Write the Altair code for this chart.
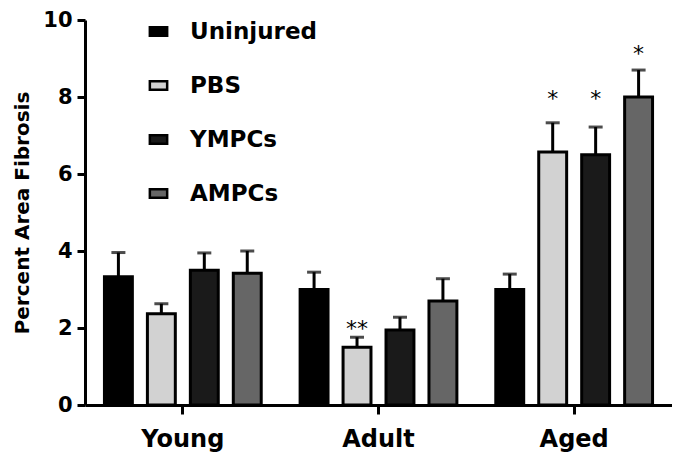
import altair as alt
import pandas as pd

groups = ["Young", "Adult", "Aged"]
series = ["Uninjured", "PBS", "YMPCs", "AMPCs"]
values = {
    "Young": [3.33, 2.37, 3.50, 3.42],
    "Adult": [3.00, 1.50, 1.95, 2.70],
    "Aged":  [3.00, 6.57, 6.50, 8.00],
}
err_top = {
    "Young": [3.96, 2.63, 3.95, 4.00],
    "Adult": [3.45, 1.76, 2.28, 3.28],
    "Aged":  [3.40, 7.33, 7.22, 8.70],
}
stars = {
    "Young": ["", "", "", ""],
    "Adult": ["", "**", "", ""],
    "Aged":  ["", "*", "*", "*"],
}
star_y = {
    "Young": [0, 0, 0, 0],
    "Adult": [0, 2.08, 0, 0],
    "Aged":  [0, 8.05, 8.05, 9.22],
}
colors = ["#000000", "#d2d2d2", "#1a1a1a", "#666666"]

rows = []
for g in groups:
    for i, s in enumerate(series):
        rows.append({"group": g, "series": s, "value": values[g][i],
                     "err": err_top[g][i], "star": stars[g][i], "star_y": star_y[g][i]})
df = pd.DataFrame(rows)

FONT = "DejaVu Sans"

x = alt.X("group:N", sort=groups, title=None,
          scale=alt.Scale(paddingInner=0.1, paddingOuter=0.05),
          axis=alt.Axis(labelAngle=0, labelFontSize=24, labelFont=FONT, labelFontWeight="bold",
                        labelColor="black", domainColor="black", domainWidth=3,
                        tickColor="black", tickWidth=3, tickSize=9, labelPadding=13))
xo = alt.XOffset("series:N", sort=series,
                 scale=alt.Scale(paddingInner=0.35, paddingOuter=0.225))
y_scale = alt.Scale(domain=[0, 10])

base = alt.Chart(df)

bars = base.mark_bar(stroke="black", strokeWidth=3).encode(
    x=x, xOffset=xo,
    y=alt.Y("value:Q", scale=y_scale, title="Percent Area Fibrosis",
            axis=alt.Axis(values=[0, 2, 4, 6, 8, 10], grid=False, labelFontSize=21,
                          labelFont=FONT, labelFontWeight="bold", labelColor="black",
                          domainColor="black", domainWidth=3, tickColor="black",
                          tickWidth=3, tickSize=8, labelPadding=5,
                          titleFont=FONT, titleFontSize=20, titleFontWeight="bold",
                          titleColor="black", titlePadding=10)),
    color=alt.Color("series:N", sort=series,
                    scale=alt.Scale(domain=series, range=colors),
                    legend=alt.Legend(title=None, orient="none", legendX=62, legendY=0,
                                      symbolType="M-1,-0.5H1V0.5H-1Z", symbolSize=300,
                                      symbolStrokeColor="black", symbolStrokeWidth=2.5,
                                      labelFont=FONT, labelFontSize=23, labelFontWeight="bold",
                                      labelColor="black", labelOffset=20, rowPadding=30,
                                      padding=0, symbolOpacity=1)),
)

rules = base.mark_rule(color="black", strokeWidth=3).encode(
    x=x, xOffset=xo, y=alt.Y("value:Q", scale=y_scale), y2="err:Q")

caps = base.mark_tick(color="black", thickness=3, size=14, orient="horizontal").encode(
    x=x, xOffset=xo, y=alt.Y("err:Q", scale=y_scale))

star_text = base.transform_filter(alt.datum.star != "").mark_text(
    font=FONT, fontSize=22, color="black", baseline="middle", dy=4).encode(
    x=x, xOffset=xo, y=alt.Y("star_y:Q", scale=y_scale), text="star:N")

chart = alt.layer(rules, bars, caps, star_text).properties(
    width=587, height=385,
    padding={"left": 77, "top": 12, "right": 0, "bottom": 48},
    autosize="none",
).configure_view(stroke=None).configure_axis(grid=False)

chart.save("out.html", embed_options={"renderer": "svg", "actions": False})
